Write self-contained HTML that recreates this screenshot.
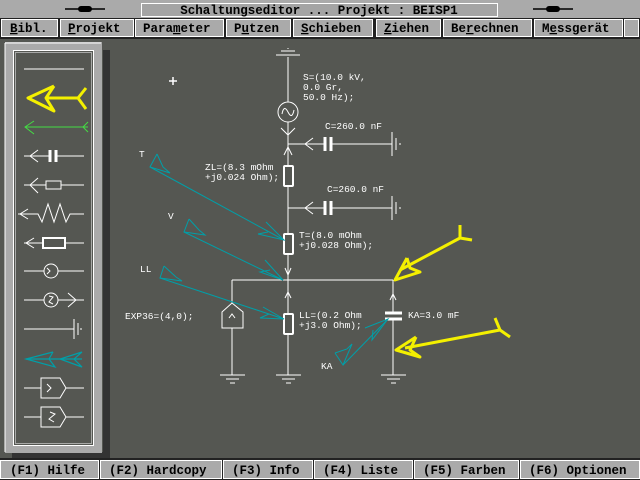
<!DOCTYPE html>
<html><head><style>
body{margin:0;width:640px;height:480px;overflow:hidden;background:#555752}
svg{display:block}
text{font-family:"Liberation Mono",monospace;}
</style></head><body>
<svg width="640" height="480" xmlns="http://www.w3.org/2000/svg">
<rect width="640" height="480" fill="#555752"/>
<!-- title bar -->
<rect x="0" y="0" width="640" height="18" fill="#aaaaaa"/>
<rect x="141.5" y="3.5" width="356" height="13" fill="#a4a4a4" stroke="#fff" stroke-width="1"/>
<text x="319" y="14" font-size="12.5" text-anchor="middle" fill="#000" font-weight="bold">Schaltungseditor ... Projekt : BEISP1</text>
<g stroke="#000" stroke-width="1.5"><line x1="65" y1="9" x2="105" y2="9"/><line x1="533" y1="9" x2="573" y2="9"/></g>
<rect x="78" y="6" width="14" height="6" rx="3" fill="#000"/><rect x="546" y="6" width="14" height="6" rx="3" fill="#000"/>
<!-- menu -->
<rect x="0" y="18" width="640" height="21" fill="#222"/>
<g fill="#aaaaaa" stroke="#fff" stroke-width="1">
<rect x="1.5" y="19.5" width="56" height="17"/><rect x="60.5" y="19.5" width="73" height="17"/><rect x="135.5" y="19.5" width="88" height="17"/><rect x="226.5" y="19.5" width="64" height="17"/><rect x="293.5" y="19.5" width="79" height="17"/><rect x="376.5" y="19.5" width="64" height="17"/><rect x="443.5" y="19.5" width="88" height="17"/><rect x="534.5" y="19.5" width="88" height="17"/><rect x="624.5" y="19.5" width="14" height="17"/>
</g>
<g font-size="12.5" fill="#000" font-weight="bold">
<text x="10" y="32"><tspan text-decoration="underline">B</tspan>ibl.</text>
<text x="68" y="32"><tspan text-decoration="underline">P</tspan>rojekt</text>
<text x="143" y="32">Para<tspan text-decoration="underline">m</tspan>eter</text>
<text x="234" y="32">P<tspan text-decoration="underline">u</tspan>tzen</text>
<text x="301" y="32"><tspan text-decoration="underline">S</tspan>chieben</text>
<text x="384" y="32"><tspan text-decoration="underline">Z</tspan>iehen</text>
<text x="451" y="32">Be<tspan text-decoration="underline">r</tspan>echnen</text>
<text x="542" y="32">M<tspan text-decoration="underline">e</tspan>ssgerät</text>
</g>
<!-- left panel -->
<rect x="103" y="50" width="7" height="408" fill="#333"/>
<rect x="12" y="452" width="98" height="6" fill="#333"/>
<rect x="5" y="42" width="97" height="411" fill="#aaaaaa"/>
<line x1="5" y1="43" x2="101" y2="43" stroke="#fff"/><line x1="5" y1="43" x2="5" y2="452" stroke="#fff"/>
<rect x="13.5" y="50.5" width="80" height="395" fill="#555752" stroke="#fff" stroke-width="1"/>
<rect x="15.5" y="52.5" width="76" height="391" fill="none" stroke="#ccc" stroke-width="0.7"/>
<g stroke="#fff" stroke-width="1" fill="none">
<line x1="24" y1="69" x2="84" y2="69"/>
<line x1="24" y1="156" x2="50" y2="156"/><line x1="56" y1="156" x2="84" y2="156"/><line x1="50" y1="150" x2="50" y2="162" stroke-width="3"/><line x1="56" y1="150" x2="56" y2="162" stroke-width="3"/><polyline points="38,150 30,156 38,162"/>
<line x1="24" y1="185" x2="46" y2="185"/><rect x="46" y="181" width="15" height="8"/><line x1="61" y1="185" x2="84" y2="185"/><polyline points="38,178 30,185 38,193"/>
<polyline points="18,214 38,214 42,222 48,204 54,222 60,204 66,222 70,214 84,214"/><polyline points="28,209 20,214 28,219"/>
<line x1="24" y1="243" x2="43" y2="243"/><rect x="43" y="238" width="22" height="10" stroke-width="2"/><line x1="65" y1="243" x2="84" y2="243"/><polyline points="34,238 26,243 34,248"/>
<line x1="24" y1="271" x2="44" y2="271"/><circle cx="51" cy="271" r="7"/><line x1="58" y1="271" x2="84" y2="271"/><polyline points="47,268 50,271 47,274 M51,268 54,271 51,274"/>
<line x1="24" y1="300" x2="44" y2="300"/><circle cx="51" cy="300" r="7"/><line x1="58" y1="300" x2="84" y2="300"/><polyline points="68,293 76,300 68,307"/><path d="M49,296 L53,297 L49,302 L53,304"/>
<line x1="24" y1="329" x2="74" y2="329"/><line x1="74" y1="319" x2="74" y2="339"/><line x1="78" y1="323" x2="78" y2="335"/><line x1="81" y1="328" x2="81" y2="330"/>
<line x1="24" y1="388" x2="41" y2="388"/><polygon points="41,378 60,378 66,388 60,398 41,398"/><line x1="66" y1="388" x2="84" y2="388"/><polyline points="47,384 51,388 47,392 M52,384 56,388 52,392"/>
<line x1="24" y1="417" x2="41" y2="417"/><polygon points="41,407 60,407 66,417 60,427 41,427"/><line x1="66" y1="417" x2="84" y2="417"/><path d="M50,412 L55,414 L49,419 L54,422"/>
</g>
<g stroke="#f4f000" stroke-width="3" fill="none" stroke-linejoin="round">
<polyline points="54,86 28,98 54,111 46,98 54,86"/><line x1="46" y1="98" x2="78" y2="98"/><polyline points="86,88 78,98 86,109"/>
</g>
<g stroke="#44dd44" stroke-width="1" fill="none"><line x1="25" y1="127" x2="88" y2="127"/><polyline points="34,121 25,127 34,134"/><polyline points="88,122 83,127 88,132"/></g>
<g stroke="#009fa8" stroke-width="1.2" fill="none"><polyline points="26,359 82,359"/><polyline points="53,352 26,359 55,367 49,359 53,352"/><polyline points="82,352 60,359 82,367 74,359 82,352"/></g>
<!-- circuit -->
<g stroke="#fff" stroke-width="1" fill="none">
<line x1="276" y1="55" x2="300" y2="55"/><line x1="281" y1="51" x2="295" y2="51"/><line x1="288" y1="48" x2="288" y2="49"/>
<line x1="288" y1="57" x2="288" y2="102"/><circle cx="288" cy="112" r="10"/><path d="M282,114 Q284,104 288,112 Q292,120 294,110"/>
<line x1="288" y1="122" x2="288" y2="165"/><polyline points="281,128 288,135 295,128"/><polyline points="284,155 288,147 292,155"/>
<line x1="288" y1="144" x2="325" y2="144"/><polyline points="313,138 305,144 313,150"/><line x1="331" y1="144" x2="392" y2="144"/>
<line x1="325" y1="137" x2="325" y2="151" stroke-width="3"/><line x1="331" y1="137" x2="331" y2="151" stroke-width="3"/>
<line x1="392" y1="132" x2="392" y2="156"/><line x1="396" y1="138" x2="396" y2="150"/><line x1="400" y1="143" x2="400" y2="145"/>
<rect x="284" y="166" width="9" height="20" rx="1" stroke-width="2"/>
<line x1="288" y1="186" x2="288" y2="234"/>
<line x1="288" y1="208" x2="325" y2="208"/><polyline points="313,202 305,208 313,214"/><line x1="331" y1="208" x2="392" y2="208"/>
<line x1="325" y1="201" x2="325" y2="215" stroke-width="3"/><line x1="331" y1="201" x2="331" y2="215" stroke-width="3"/>
<line x1="392" y1="196" x2="392" y2="220"/><line x1="396" y1="202" x2="396" y2="214"/><line x1="400" y1="207" x2="400" y2="209"/>
<rect x="284" y="234" width="9" height="20" rx="1" stroke-width="2"/>
<line x1="288" y1="254" x2="288" y2="313"/><polyline points="285,268 288,275 291,268"/><polyline points="285,298 288,292 291,298"/>
<line x1="232" y1="280" x2="393" y2="280"/>
<line x1="232" y1="280" x2="232" y2="303"/><polygon points="222,312 232,303 243,312 243,328 222,328"/><polyline points="229,318 232,314 235,318 M229,323 232,319 235,323"/>
<line x1="232" y1="328" x2="232" y2="375"/>
<rect x="284" y="314" width="9" height="20" rx="1" stroke-width="2"/>
<line x1="288" y1="334" x2="288" y2="375"/>
<line x1="393" y1="280" x2="393" y2="313"/><polyline points="390,300 393,294 396,300"/>
<line x1="385" y1="313" x2="402" y2="313" stroke-width="3"/><line x1="385" y1="319" x2="402" y2="319" stroke-width="3"/>
<line x1="393" y1="319" x2="393" y2="375"/>
<g><line x1="220" y1="375" x2="245" y2="375"/><line x1="226" y1="379" x2="239" y2="379"/><line x1="230" y1="383" x2="235" y2="383"/></g>
<g><line x1="276" y1="375" x2="301" y2="375"/><line x1="282" y1="379" x2="295" y2="379"/><line x1="286" y1="383" x2="291" y2="383"/></g>
<g><line x1="381" y1="375" x2="406" y2="375"/><line x1="387" y1="379" x2="400" y2="379"/><line x1="391" y1="383" x2="396" y2="383"/></g>
<line x1="169" y1="81" x2="177" y2="81" stroke-width="1.5"/><line x1="173" y1="77" x2="173" y2="85" stroke-width="1.5"/>
</g>
<!-- cyan arrows -->
<g stroke="#009fa8" stroke-width="1" fill="none">
<line x1="150" y1="167" x2="284" y2="240"/><polyline points="157,154 150,167 170,173 163,167 157,154"/><polyline points="266,222 284,240 258,234 268,232"/>
<line x1="184" y1="232" x2="283" y2="280"/><polyline points="189,219 184,232 205,235 199,230 189,219"/><polyline points="265,260 283,280 260,272 270,270"/>
<line x1="160" y1="278" x2="284" y2="319"/><polyline points="164,266 160,278 182,281 176,277 164,266"/><polyline points="263,307 284,319 260,318 269,314"/>
<line x1="343" y1="365" x2="388" y2="319"/><polyline points="335,353 343,365 352,344 347,349 335,353"/><polyline points="365,328 388,319 372,340 373,330"/>
</g>
<!-- yellow arrows -->
<g stroke="#f4f000" stroke-width="3" fill="none" stroke-linejoin="round">
<line x1="400" y1="270" x2="460" y2="238"/><polyline points="407,258 395,280 420,272 410,268 407,258"/><polyline points="460,225 460,238 472,240"/>
<line x1="405" y1="348" x2="500" y2="330"/><polyline points="416,337 396,350 420,357 410,350 416,337"/><polyline points="495,318 500,330 510,337"/>
</g>
<!-- labels -->
<g font-size="9.5" fill="#fff">
<text x="303" y="80">S=(10.0 kV,</text><text x="303" y="90">0.0 Gr,</text><text x="303" y="100">50.0 Hz);</text>
<text x="325" y="129">C=260.0 nF</text>
<text x="327" y="192">C=260.0 nF</text>
<text x="205" y="170">ZL=(8.3 mOhm</text><text x="205" y="180">+j0.024 Ohm);</text>
<text x="299" y="238">T=(8.0 mOhm</text><text x="299" y="248">+j0.028 Ohm);</text>
<text x="299" y="318">LL=(0.2 Ohm</text><text x="299" y="328">+j3.0 Ohm);</text>
<text x="408" y="318">KA=3.0 mF</text>
<text x="125" y="319">EXP36=(4,0);</text>
<text x="139" y="157">T</text><text x="168" y="219">V</text><text x="140" y="272">LL</text><text x="321" y="369">KA</text>
</g>
<!-- bottom bar -->
<rect x="0" y="458" width="640" height="22" fill="#222"/>
<g fill="#aaaaaa" stroke="#fff" stroke-width="1">
<rect x="0.5" y="460.5" width="98" height="18"/><rect x="100.5" y="460.5" width="121" height="18"/><rect x="223.5" y="460.5" width="89" height="18"/><rect x="314.5" y="460.5" width="98" height="18"/><rect x="414.5" y="460.5" width="104" height="18"/><rect x="520.5" y="460.5" width="119" height="18"/>
</g>
<g font-size="12.5" fill="#000" font-weight="bold">
<text x="10" y="474">(F1) Hilfe</text><text x="109" y="474">(F2) Hardcopy</text><text x="232" y="474">(F3) Info</text><text x="323" y="474">(F4) Liste</text><text x="423" y="474">(F5) Farben</text><text x="529" y="474">(F6) Optionen</text>
</g>
</svg>
</body></html>
